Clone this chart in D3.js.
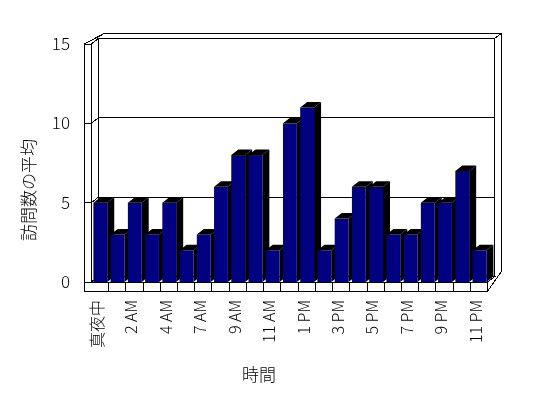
<!DOCTYPE html>
<html>
<head>
<meta charset="utf-8">
<script src="https://cdn.jsdelivr.net/npm/d3@7"></script>
<style>
  body { margin: 0; background: #fff; }
  text { font-family: "Noto Sans CJK JP", "DejaVu Sans", sans-serif; font-weight: 300; fill: #000; }
  .labels { opacity: 0.999; }
</style>
</head>
<body>
<svg id="chart" width="548" height="398"></svg>
<script>
// hourly categories (one hour is absent in the source data)
var categories = ["真夜中", "1 AM", "2 AM", "3 AM", "4 AM", "5 AM", "7 AM", "8 AM", "9 AM", "10 AM",
                  "11 AM", "12 PM", "1 PM", "2 PM", "3 PM", "4 PM", "5 PM", "6 PM", "7 PM", "8 PM",
                  "9 PM", "10 PM", "11 PM"];
var visits = [5, 3, 5, 3, 5, 2, 3, 6, 8, 8, 2, 10, 11, 2, 4, 6, 6, 3, 3, 5, 5, 7, 2];
var yTicks = [0, 5, 10, 15];
var yTitle = "訪問数の平均";
var xTitle = "時間";

var svg = d3.select("#chart");

// depth offset of one "unit" of the 3d box
var DX = 7, DY = -5.5;

var x = d3.scaleBand().domain(categories).range([91.3, 487.7]);
var y = d3.scaleLinear().domain([0, 15]).range([282, 44]);

var line = function(pts) { return "M" + pts.map(function(p) { return p.join(","); }).join("L"); };
var L = 84, R = x.range()[1], X0 = x.range()[0];
var yTop = y(15), yBase = y(0), yFloor = 291;

var frame = svg.append("g").attr("fill", "none").attr("stroke", "#000").attr("stroke-width", 1)
    .attr("shape-rendering", "crispEdges");

// outer silhouette
frame.append("path").attr("fill", "#fff").attr("d", line([
  [L, yTop], [X0 + 2 * DX, yTop + 2 * DY], [R + 2 * DX, yTop + 2 * DY],
  [R + 2 * DX, yBase + 2 * DY], [R, yFloor], [L, yFloor]]) + "Z");

// left wall
frame.append("path").attr("d", line([[L, yTop], [X0, yTop], [X0, yBase]]));
frame.append("path").attr("d", line([[X0, yTop], [X0 + DX, yTop + DY], [X0 + DX, yBase + DY]]));
// back wall front face
frame.append("path").attr("d", line([[X0 + DX, yTop + DY], [R + DX, yTop + DY], [R + 2 * DX, yTop + 2 * DY]]));
frame.append("path").attr("d", line([[R + DX, yTop + DY], [R + DX, yBase + DY]]));
// floor
frame.append("path").attr("d", line([[X0, yBase], [X0 + DX, yBase + DY], [R + DX, yBase + DY], [R, yBase]]));
frame.append("path").attr("d", line([[L, yBase], [R, yBase], [R, yFloor]]));

// gridlines and ticks
yTicks.filter(function(v) { return v > 0 && v < 15; }).forEach(function(v) {
  frame.append("path").attr("d", line([[L, y(v)], [X0, y(v)], [X0 + DX, y(v) + DY], [R + DX, y(v) + DY]]));
});

// category ticks on the floor front
frame.selectAll(".xtick").data(categories.slice(1)).enter().append("path")
    .attr("d", function(c) { return line([[x(c), yBase], [x(c), yFloor]]); });

// bars, drawn left to right so the next bar hides the previous side
var bw = x.bandwidth() - 3.4, inset = 2.1;
var bars = svg.append("g").selectAll("g").data(visits).enter().append("g");
bars.each(function(v, i) {
  var g = d3.select(this);
  var x0 = x(categories[i]) + inset, x1 = x0 + bw, yt = y(v), yb = y(0);
  g.append("path").attr("fill", "#000").attr("d",
      line([[x1, yt], [x1 + DX, yt + DY], [x1 + DX, yb + DY], [x1, yb]]) + "Z");
  g.append("path").attr("fill", "#000").attr("d",
      line([[x0, yt], [x0 + DX, yt + DY], [x1 + DX, yt + DY], [x1, yt]]) + "Z");
  g.append("rect").attr("fill", "#000080").attr("x", x0).attr("y", yt)
      .attr("width", bw).attr("height", yb - yt);
});

var labels = svg.append("g").attr("class", "labels");

// y tick labels
labels.append("g").selectAll("text").data(yTicks).enter().append("text")
    .attr("x", 70).attr("y", function(d) { return y(d); }).attr("dy", "0.36em")
    .attr("text-anchor", "end").style("font-size", "17px")
    .text(function(d) { return d; });

// x tick labels, every other category
labels.append("g").selectAll("text").data(categories.filter(function(c, i) { return i % 2 === 0; }))
  .enter().append("text")
    .attr("transform", function(c) {
      return "translate(" + (x(c) + x.bandwidth() / 2 - 3) + ",300) rotate(-90)";
    })
    .attr("dy", "0.36em").attr("text-anchor", "end").style("font-size", "16px")
    .text(function(c) { return c; });

// axis titles
labels.append("text").attr("transform", "translate(29,190) rotate(-90)")
    .attr("text-anchor", "middle").attr("dy", "0.36em").style("font-size", "17px").text(yTitle);
labels.append("text").attr("x", 259).attr("y", 375).attr("dy", "0.36em")
    .attr("text-anchor", "middle").style("font-size", "17px").text(xTitle);
</script>
</body>
</html>
